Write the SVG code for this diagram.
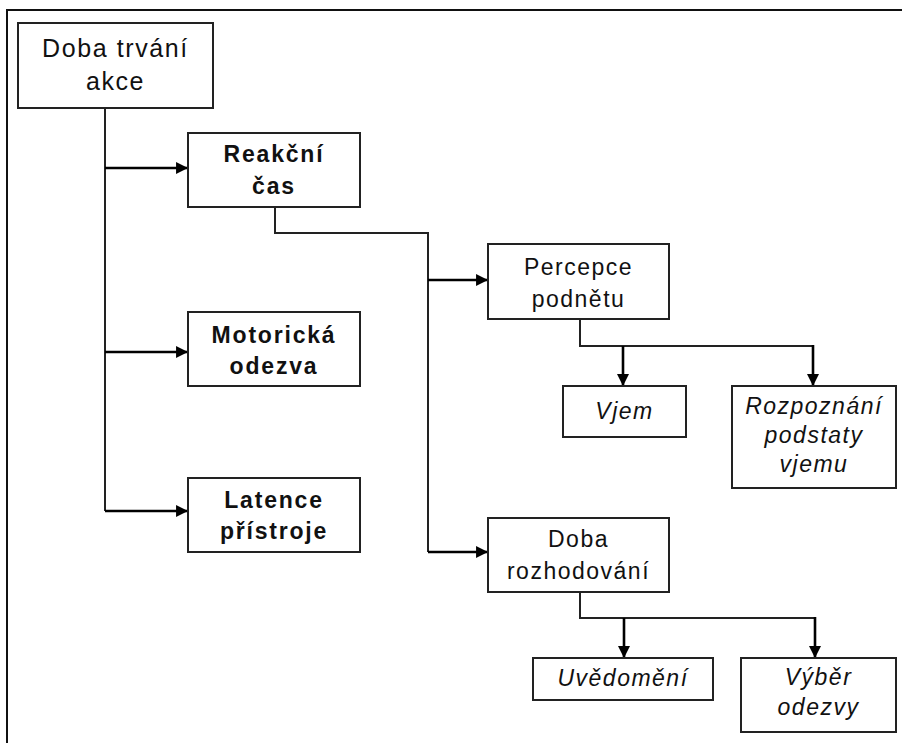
<svg xmlns="http://www.w3.org/2000/svg" width="902" height="743" viewBox="0 0 902 743">
<style>
.box{fill:#fff;stroke:#222;stroke-width:2}
.t{font-family:"Liberation Sans",Arial,sans-serif;font-size:23px;fill:#111;text-anchor:middle;letter-spacing:1.5px}
.b{font-weight:bold;letter-spacing:1.8px}
.i{font-style:italic}
.thin{fill:none;stroke:#222;stroke-width:2}
.arr{fill:none;stroke:#000;stroke-width:2.6;marker-end:url(#ah)}
</style>
<defs>
<marker id="ah" viewBox="0 0 10 10" refX="10" refY="5" markerWidth="4.6" markerHeight="4.6" markerUnits="strokeWidth" orient="auto">
<path d="M0,0 L10,5 L0,10 Z" fill="#000"/>
</marker>
</defs>
<rect width="902" height="743" fill="#fff"/>
<path d="M7,743 V10 H902" fill="none" stroke="#111" stroke-width="2"/>
<g id="connectors">
<path class="thin" d="M105,108 V511"/>
<path class="arr" d="M105,168 H188"/>
<path class="arr" d="M105,352 H188"/>
<path class="arr" d="M105,511 H188"/>
<path class="thin" d="M275,207 V233 H428 V552"/>
<path class="arr" d="M428,280 H488"/>
<path class="arr" d="M428,552 H488"/>
<path class="thin" d="M580,319 V346 H813"/>
<path class="arr" d="M623,346 V386"/>
<path class="arr" d="M813,345 V386"/>
<path class="thin" d="M580,592 V618 H815"/>
<path class="arr" d="M624,618 V658"/>
<path class="arr" d="M815,617 V658"/>
</g>
<g id="n-doba-trvani">
<rect class="box" x="18" y="23" width="195" height="85"/>
<text class="t" style="font-size:25px;letter-spacing:1.6px" x="115.5" y="57">Doba trvání</text>
<text class="t" style="font-size:25px;letter-spacing:1.6px" x="115.5" y="90">akce</text>
</g>
<g id="n-reakcni">
<rect class="box" x="188" y="133" width="172" height="74"/>
<text class="t b" x="274" y="162">Reakční</text>
<text class="t b" x="274" y="194">čas</text>
</g>
<g id="n-motoricka">
<rect class="box" x="188" y="312" width="172" height="74"/>
<text class="t b" x="274" y="343">Motorická</text>
<text class="t b" x="274" y="374">odezva</text>
</g>
<g id="n-latence">
<rect class="box" x="188" y="478" width="172" height="74"/>
<text class="t b" x="274" y="508">Latence</text>
<text class="t b" x="274" y="539">přístroje</text>
</g>
<g id="n-percepce">
<rect class="box" x="488" y="244" width="181" height="75"/>
<text class="t" x="578.5" y="275">Percepce</text>
<text class="t" x="578.5" y="307">podnětu</text>
</g>
<g id="n-vjem">
<rect class="box" x="563" y="386" width="123" height="51"/>
<text class="t i" x="624.5" y="419">Vjem</text>
</g>
<g id="n-rozpoznani">
<rect class="box" x="732" y="386" width="164" height="102"/>
<text class="t i" x="814" y="414">Rozpoznání</text>
<text class="t i" x="814" y="443">podstaty</text>
<text class="t i" x="814" y="472">vjemu</text>
</g>
<g id="n-doba-rozhodovani">
<rect class="box" x="488" y="518" width="181" height="74"/>
<text class="t" x="578.5" y="547">Doba</text>
<text class="t" x="578.5" y="579">rozhodování</text>
</g>
<g id="n-uvedomeni">
<rect class="box" x="533" y="658" width="180" height="42"/>
<text class="t i" x="623" y="686">Uvědomění</text>
</g>
<g id="n-vyber">
<rect class="box" x="741" y="658" width="155" height="74"/>
<text class="t i" x="818.5" y="685">Výběr</text>
<text class="t i" x="818.5" y="715">odezvy</text>
</g>
</svg>
